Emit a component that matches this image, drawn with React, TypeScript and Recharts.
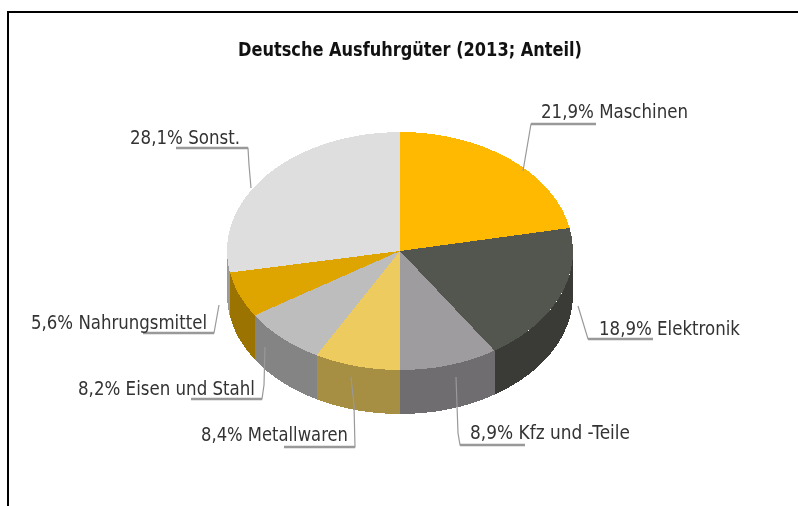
import React from "react";
import { PieChart, Pie } from "recharts";

const title = "Deutsche Ausfuhrgüter (2013; Anteil)";
const categories = ["Maschinen", "Elektronik", "Kfz und -Teile", "Metallwaren", "Eisen und Stahl", "Nahrungsmittel", "Sonst."];
// Percentages as printed in the reference's labels.
const printedLabels = ["21,9%", "18,9%", "8,9%", "8,4%", "8,2%", "5,6%", "28,1%"];
// Wedge shares measured from the drawn slices: the reference's wedges do not quite follow its printed numbers.
const drawnShares = [21.9, 18.9, 9.2, 8.0, 7.9, 6.2, 27.9];
const topColors = ["#FFB900", "#53554F", "#9E9C9E", "#EDCB5E", "#BDBDBD", "#DEA500", "#DEDEDE"];
const wallColors = ["#B28100", "#3A3B37", "#6F6D6F", "#A68E42", "#848484", "#9B7300", "#9B9B9B"];

const CX = 400, CY = 251, RX = 173, RY = 119, DEPTH = 44;

// Annotation layout: text box and leader path for each label.
const labelLayout = [
  { x: 541, w: 147, y: 118, line: "M596 124H531L523 171" },
  { x: 599, w: 141, y: 335, line: "M653 339H588L578 306" },
  { x: 470, w: 160, y: 439, line: "M525 445H460L458 433L456 377" },
  { x: 201, w: 147, y: 441, line: "M284 447H355L354 405L351 377" },
  { x: 78, w: 177, y: 395, line: "M191 399H262L264 385L265 347" },
  { x: 31, w: 176, y: 329, line: "M143 333H214L219 305" },
  { x: 130, w: 110, y: 144, line: "M176 148H248L249 165L251 188" },
];

const data = categories.map((name, i) => ({
  name,
  value: drawnShares[i],
  fill: topColors[i],
  wall: wallColors[i],
}));

const ellipsePoint = (cx: number, cy: number, rx: number, ry: number, deg: number) => {
  const a = (deg * Math.PI) / 180;
  return [cx + rx * Math.cos(a), cy - ry * Math.sin(a)];
};

const TopSlice = (p: any) => {
  const rx = p.outerRadius;
  const ry = (rx * RY) / RX;
  const [x0, y0] = ellipsePoint(p.cx, p.cy, rx, ry, p.startAngle);
  const [x1, y1] = ellipsePoint(p.cx, p.cy, rx, ry, p.endAngle);
  const large = Math.abs(p.startAngle - p.endAngle) > 180 ? 1 : 0;
  return (
    <path
      d={`M${p.cx} ${p.cy}L${x0} ${y0}A${rx} ${ry} 0 ${large} 1 ${x1} ${y1}Z`}
      fill={p.fill}
      stroke="none"
      shapeRendering="crispEdges"
    />
  );
};

const WallSlice = (p: any) => {
  const rx = p.outerRadius;
  const ry = (rx * RY) / RX;
  // Only the front half of the rim (angles -180..0) is visible.
  const visStart = Math.min(p.startAngle, 0);
  const visEnd = Math.max(p.endAngle, -180);
  if (visStart <= visEnd) return <g />;
  const [x0, y0] = ellipsePoint(p.cx, p.cy, rx, ry, visStart);
  const [x1, y1] = ellipsePoint(p.cx, p.cy, rx, ry, visEnd);
  return (
    <path
      d={`M${x0} ${y0}A${rx} ${ry} 0 0 1 ${x1} ${y1}V${y1 + DEPTH}A${rx} ${ry} 0 0 0 ${x0} ${y0 + DEPTH}Z`}
      fill={p.wall ?? p.payload?.wall}
      stroke="none"
      shapeRendering="crispEdges"
    />
  );
};

const renderLabel = (p: any) => {
  const i = p.index as number;
  const l = labelLayout[i];
  return (
    <g key={i}>
      <path d={l.line} fill="none" stroke="#999999" strokeWidth={1.2} />
      <path d={l.line.split("L")[0]} fill="none" stroke="#999999" strokeWidth={2.4} />
      <text
        x={l.x}
        y={l.y}
        fontFamily="DejaVu Sans"
        fontSize={20}
        fill="#333333"
        textLength={l.w}
        lengthAdjust="spacingAndGlyphs"
        style={{ filter: "blur(0.4px)" }}
      >
        {`${printedLabels[i]} ${categories[i]}`}
      </text>
    </g>
  );
};

export default function App() {
  return (
    <div style={{ position: "absolute", left: 0, top: 0, width: 798, height: 506, overflow: "hidden", background: "#fff" }}>
      <div style={{ position: "absolute", left: 7, top: 11, right: 0, bottom: 0, borderTop: "2px solid #000", borderLeft: "2px solid #000" }} />
      <div style={{ position: "absolute", left: 0, top: 0 }}>
        <PieChart width={798} height={506} margin={{ top: 0, right: 0, bottom: 0, left: 0 }}>
          <text
            x={410}
            y={56}
            textAnchor="middle"
            fontFamily="DejaVu Sans"
            fontWeight="bold"
            fontSize={20}
            fill="#111111"
            textLength={344}
            lengthAdjust="spacingAndGlyphs"
            style={{ filter: "blur(0.4px)" }}
          >
            {title}
          </text>
          <Pie
            data={data}
            dataKey="value"
            nameKey="name"
            cx={CX}
            cy={CY}
            outerRadius={RX}
            innerRadius={0}
            startAngle={90}
            endAngle={-270}
            stroke="none"
            isAnimationActive={false}
            shape={WallSlice}
            label={false}
            labelLine={false}
          />
          <Pie
            data={data}
            dataKey="value"
            nameKey="name"
            cx={CX}
            cy={CY}
            outerRadius={RX}
            innerRadius={0}
            startAngle={90}
            endAngle={-270}
            stroke="none"
            isAnimationActive={false}
            shape={TopSlice}
            label={renderLabel}
            labelLine={false}
          />
        </PieChart>
      </div>
    </div>
  );
}
